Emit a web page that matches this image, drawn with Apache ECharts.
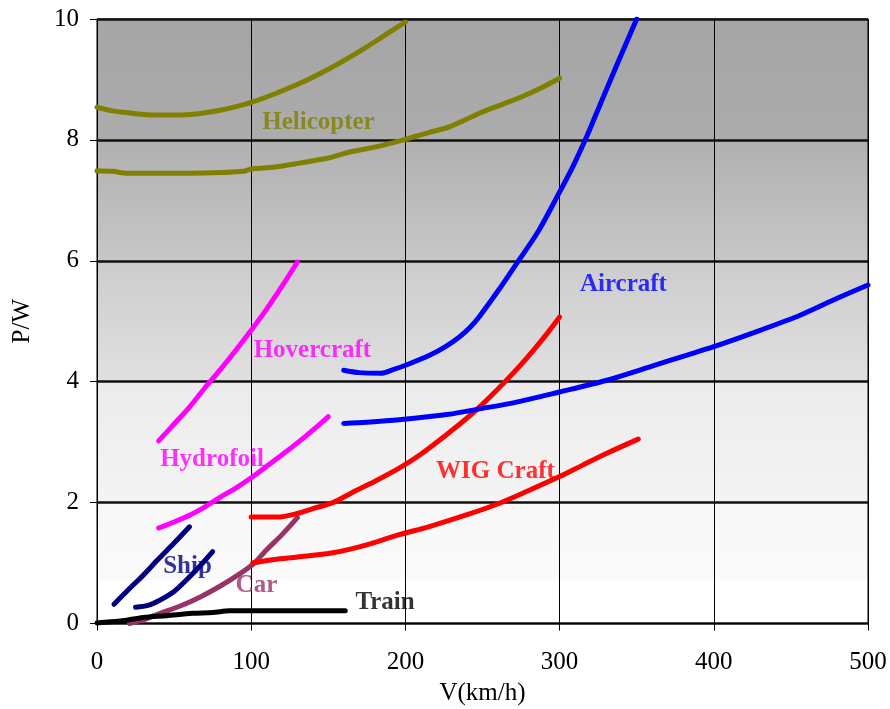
<!DOCTYPE html>
<html>
<head>
<meta charset="utf-8">
<script src="https://cdn.jsdelivr.net/npm/echarts@6/dist/echarts.min.js"></script>
<style>html,body{margin:0;padding:0;background:#fff;}#c{width:890px;height:709px;}</style>
</head>
<body>
<div id="c"></div>
<script>
// ---- data ----
const xTicks = [0, 100, 200, 300, 400, 500];
const yTicks = [0, 2, 4, 6, 8, 10];

const helicopterUpper = [[0,8.54],[10,8.48],[20,8.45],[30,8.42],[40,8.41],[50,8.41],[60,8.42],[70,8.45],[80,8.49],[90,8.55],[100,8.62],[115,8.76],[132,8.94],[150,9.17],[164,9.37],[175,9.54],[186,9.72],[200,9.95]];
const helicopterLower = [[0,7.49],[10,7.48],[20,7.45],[40,7.45],[60,7.45],[80,7.46],[95,7.48],[100,7.52],[115,7.55],[132,7.62],[150,7.70],[164,7.80],[180,7.88],[200,8.01],[215,8.12],[229,8.22],[248,8.44],[262,8.58],[275,8.71],[288,8.86],[300,9.02]];
const hovercraft = [[40,3.02],[50,3.3],[60,3.58],[70,3.9],[80,4.2],[90,4.52],[100,4.85],[110,5.2],[120,5.58],[130,5.98]];
const hydrofoil = [[40,1.58],[50,1.68],[60,1.79],[70,1.93],[80,2.09],[90,2.24],[100,2.41],[110,2.6],[120,2.79],[132,3.03],[140,3.2],[150,3.42]];
const shipA = [[11,0.32],[20,0.55],[30,0.8],[40,1.07],[50,1.33],[60,1.6]];
const shipB = [[25,0.27],[33,0.3],[41,0.39],[50,0.53],[58,0.72],[66,0.93],[75,1.19]];
const car = [[21,0.0],[30,0.06],[41,0.17],[54,0.29],[67,0.44],[80,0.62],[93,0.83],[102,1.0],[110,1.22],[120,1.47],[130,1.75]];
const train = [[0,0.01],[15,0.04],[30,0.1],[45,0.13],[62,0.17],[75,0.18],[86,0.21],[100,0.21],[130,0.21],[161,0.21]];
const wigUpper = [[100,1.76],[117,1.76],[130,1.82],[140,1.9],[153,2.0],[165,2.16],[180,2.35],[196,2.57],[210,2.8],[228,3.15],[240,3.4],[248,3.58],[260,3.88],[272,4.2],[283,4.52],[292,4.8],[300,5.07]];
const wigLower = [[101,1.0],[115,1.06],[130,1.1],[153,1.17],[175,1.3],[196,1.47],[215,1.6],[240,1.8],[261,1.99],[280,2.2],[300,2.43],[315,2.62],[331,2.82],[351,3.05]];
const aircraftLower = [[160,3.31],[175,3.33],[196,3.37],[228,3.46],[248,3.55],[270,3.65],[300,3.83],[330,4.02],[359,4.25],[380,4.42],[400,4.58],[430,4.85],[456,5.1],[480,5.38],[500,5.6]];
const aircraftUpper = [[160,4.19],[170,4.15],[184,4.14],[192,4.2],[201,4.28],[216,4.44],[226,4.58],[235,4.74],[242,4.9],[248,5.08],[260,5.5],[272,5.95],[286,6.48],[299,7.09],[309,7.58],[318,8.08],[328,8.69],[339,9.35],[350,10.0]];

const labelNames = ['Helicopter','Hovercraft','Aircraft','Hydrofoil','WIG Craft','Ship','Car','Train'];
const labelPos = [[143.6,8.28],[139.7,4.51],[341.4,5.6],[74.6,2.72],[258.4,2.51],[58.7,0.95],[103.4,0.62],[186.8,0.34]];

// ---- styling ----
const C = {heli:'#808000', hover:'#ff00ff', air:'#0000ff', wig:'#ff0000', ship:'#000080', car:'#993366', train:'#000000'};
const labelColors = [C.heli, C.hover, C.air, C.hover, C.wig, C.ship, C.car, C.train];
const FONT = '"Liberation Serif","Times New Roman",serif';

function line(name, data, color){
  return {name, type:'line', data, smooth:0.3, symbol:'none', z:3,
    lineStyle:{color, width:5, cap:'round', join:'round'}};
}

const series = [
  line('Helicopter1', helicopterUpper, C.heli),
  line('Helicopter2', helicopterLower, C.heli),
  line('Hovercraft', hovercraft, C.hover),
  line('Hydrofoil', hydrofoil, C.hover),
  line('Ship1', shipA, C.ship),
  line('Ship2', shipB, C.ship),
  line('Car', car, C.car),
  line('Train', train, C.train),
  line('WIG1', wigUpper, C.wig),
  line('WIG2', wigLower, C.wig),
  line('Aircraft1', aircraftLower, C.air),
  line('Aircraft2', aircraftUpper, C.air),
  {type:'scatter', symbolSize:0, z:4, silent:true,
   data: labelPos.map((p,i)=>({value:p, name:labelNames[i],
     label:{show:true, position:'inside', formatter:labelNames[i], color:labelColors[i],
       fontFamily:FONT, fontWeight:'bold', fontSize:25}}))}
];

const bg = new echarts.graphic.LinearGradient(0,0,0,1,[
  {offset:0, color:'#a5a5a5'},
  {offset:0.2, color:'#acacac'},
  {offset:0.2, color:'#b0b0b0'},
  {offset:0.4, color:'#c7c7c7'},
  {offset:0.4, color:'#cccccc'},
  {offset:0.6, color:'#e0e0e0'},
  {offset:0.6, color:'#ebebeb'},
  {offset:0.8, color:'#f4f4f4'},
  {offset:0.8, color:'#f7f7f7'},
  {offset:0.925, color:'#fafafa'},
  {offset:0.93, color:'#ffffff'},
  {offset:1, color:'#ffffff'}
]);

const chart = echarts.init(document.getElementById('c'), null, {renderer:'canvas'});
chart.setOption({
  animation:false,
  backgroundColor:'#ffffff',
  grid:{left:97, right:22, top:19, bottom:85.5, containLabel:false, outerBoundsMode:'none',
    show:true, backgroundColor:bg, borderColor:'#000', borderWidth:1},
  xAxis:{type:'value', min:xTicks[0], max:xTicks[xTicks.length-1], interval:100,
    name:'V(km/h)', nameLocation:'middle', nameGap:57,
    nameTextStyle:{fontFamily:FONT, fontSize:25, color:'#000'},
    axisLine:{show:true, lineStyle:{color:'#000', width:1}},
    axisTick:{show:true, inside:false, length:7, lineStyle:{color:'#000'}},
    axisLabel:{fontFamily:FONT, fontSize:25, color:'#000', margin:26},
    splitLine:{show:true, lineStyle:{color:'#000', width:1}}},
  yAxis:{type:'value', min:yTicks[0], max:yTicks[yTicks.length-1], interval:2,
    name:'P/W', nameLocation:'middle', nameGap:62, nameRotate:90,
    nameTextStyle:{fontFamily:FONT, fontSize:25, color:'#000'},
    axisLine:{show:true, lineStyle:{color:'#000', width:1}},
    axisTick:{show:true, inside:false, length:7, lineStyle:{color:'#000'}},
    axisLabel:{fontFamily:FONT, fontSize:25, color:'#000', margin:18},
    splitLine:{show:true, lineStyle:{color:'#111', width:2.5}}},
  series
});
</script>
</body>
</html>
